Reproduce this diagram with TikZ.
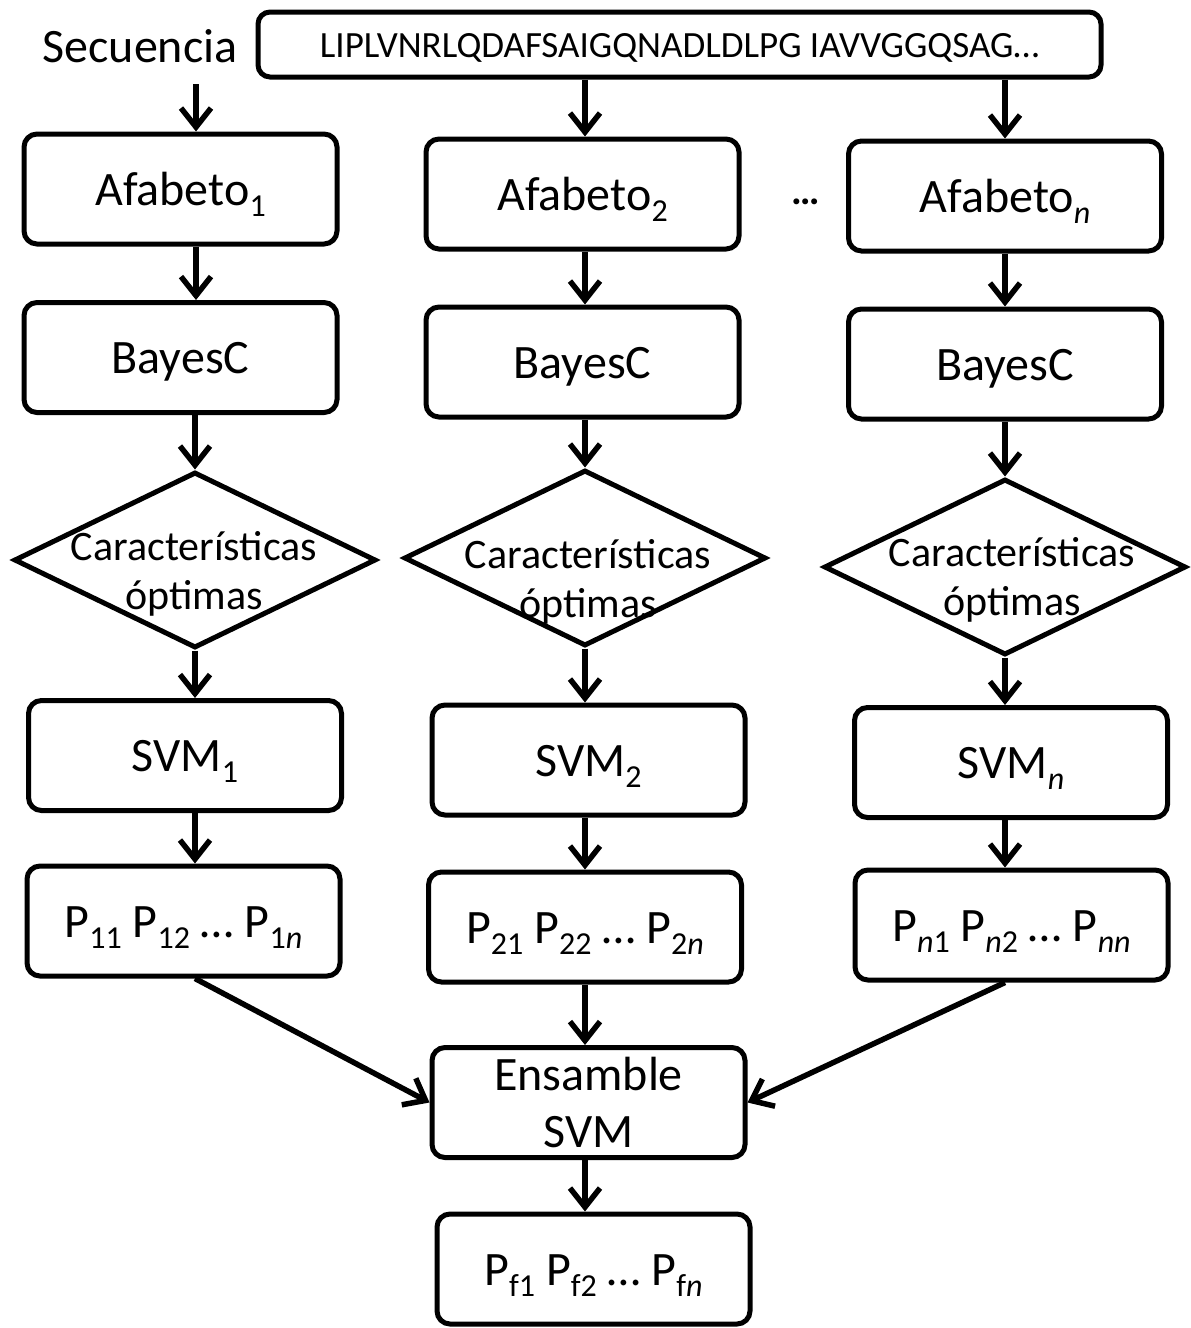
\documentclass[tikz,border=0pt]{standalone}
\usepackage{fontspec}
\setmainfont{Carlito}
\usepackage{tikz}
\usetikzlibrary{shapes.geometric}
\usetikzlibrary{arrows.meta}
\newcommand{\Ind}[1]{\raisebox{-.5ex}[0pt][0pt]{\fontsize{32}{32}\selectfont#1}}
\tikzstyle{Frame}=[draw,rounded corners=13pt,line width=5pt,minimum width=313pt,
minimum height=110pt,inner sep=0pt,align=center,font=\fontsize{48}{57}\selectfont]
\tikzstyle{Box}=[Frame,text height=32pt,text depth=0pt]
\tikzstyle{Choice}=[diamond,draw,line width=5pt,minimum width=362pt,
minimum height=176pt,inner sep=0pt]
\tikzstyle{ChoiceST}=[inner sep=0pt,align=center,font=\fontsize{42}{49}\selectfont]
\tikzstyle{Edge}=[line width=5.5pt,-{Straight Barb[length=19pt,width=30pt]}]

\begin{document}
\begin{tikzpicture}[x=1pt,y=-1pt]
            \useasboundingbox(0,0)rectangle(1191,1328);
            % entrada
            \node[font=\fontsize{48}{52}\selectfont](sec)at(140.00,46.00){Secuencia};
            \node[Box,minimum width=843pt,minimum height=65pt,rounded corners=12pt,
                text height=26pt,font=\fontsize{37}{40}\selectfont](seq)at(679.50,44.50)
                {LIPLVNRLQDAFSAIGQNADLDLPG IAVVGGQSAG…};
            \coordinate(sq)at(196.00,84.00);
            % columna 1
            \node[Box](a1)at(180.50,189.00){Afabeto\Ind{1}};
            \node[Box](b1)at(180.50,357.50){BayesC};
            \node[Choice](d1)at(195.00,560.00){};
            \node[ChoiceST](t1)at(194.00,574.00){Características\\óptimas};
            \node[Box](s1)at(185.00,755.50){SVM\Ind{1}};
            \node[Box](p1)at(183.50,921.00)
                {P\Ind{11} P\Ind{12} … P\Ind{1\textit{n}}};
            % columna 2
            \node[Box](a2)at(582.50,194.00){Afabeto\Ind{2}};
            \node[Box](b2)at(582.50,362.00){BayesC};
            \node[Choice](d2)at(585.00,558.00){};
            \node[ChoiceST](t2)at(588.00,582.00){Características\\óptimas};
            \node[Box](s2)at(588.50,760.00){SVM\Ind{2}};
            \node[Box](p2)at(585.00,927.00)
                {P\Ind{21} P\Ind{22} … P\Ind{2\textit{n}}};
            % columna n
            \node[font=\fontsize{40}{40}\selectfont\bfseries](dots)at(806.00,202.00){…};
            \node[Box](an)at(1005.00,196.00){Afabeto\Ind{\textit{n}}};
            \node[Box](bn)at(1005.00,364.00){BayesC};
            \node[Choice](dn)at(1005.00,567.00){};
            \node[ChoiceST](tn)at(1012.00,580.00){Características\\óptimas};
            \node[Box](sn)at(1011.00,762.50){SVM\Ind{\textit{n}}};
            \node[Box](pn)at(1011.50,925.00)
                {P\Ind{\textit{n}1} P\Ind{\textit{n}2} … P\Ind{\textit{nn}}};
            % ensamble
            \node[Frame](ens)at(588.50,1102.50){Ensamble\\SVM};
            \node[Box](pf)at(593.50,1269.00)
                {P\Ind{f1} P\Ind{f2} … P\Ind{f\textit{n}}};
            %
            \draw[Edge](sq)--(a1.north-|sq);
            \draw[Edge](seq.south-|d2.center)--(a2.north-|d2.center);
            \draw[Edge](seq.south-|dn.center)--(an.north-|dn.center);
            \draw[Edge](a1.south-|sq)--(b1.north-|sq);
            \draw[Edge](a2.south-|d2.center)--(b2.north-|d2.center);
            \draw[Edge](an.south-|dn.center)--(bn.north-|dn.center);
            \draw[Edge](b1.south-|d1.center)--(d1.north);
            \draw[Edge](b2.south-|d2.center)--(d2.north);
            \draw[Edge](bn.south-|dn.center)--(dn.north);
            \draw[Edge](d1.south)--(s1.north-|d1.center);
            \draw[Edge](d2.south)--(s2.north-|d2.center);
            \draw[Edge](dn.south)--(sn.north-|dn.center);
            \draw[Edge](s1.south-|d1.center)--(p1.north-|d1.center);
            \draw[Edge](s2.south-|d2.center)--(p2.north-|d2.center);
            \draw[Edge](sn.south-|dn.center)--(pn.north-|dn.center);
            \draw[Edge](p1.south-|d1.center)--(ens.west);
            \draw[Edge](p2.south-|d2.center)--(ens.north-|d2.center);
            \draw[Edge](pn.south-|dn.center)--(ens.east);
            \draw[Edge](ens.south-|d2.center)--(pf.north-|d2.center);
        \end{tikzpicture}
\end{document}
